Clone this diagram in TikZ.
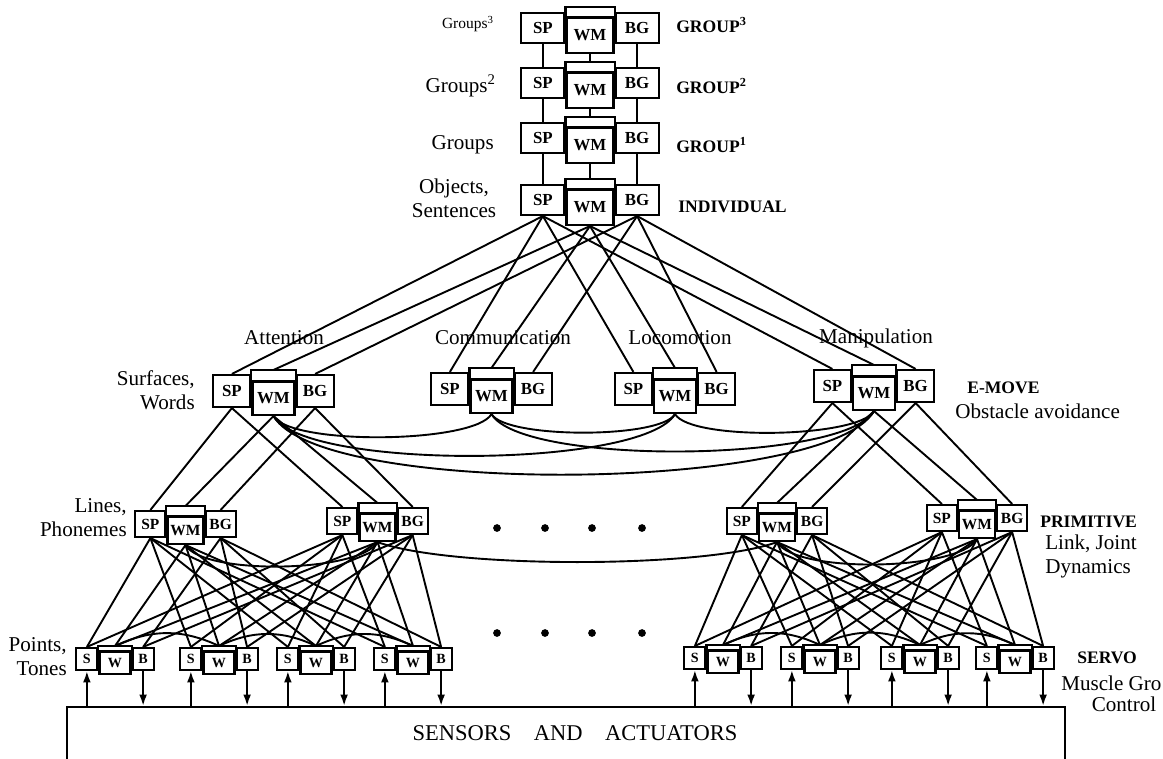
\documentclass[tikz,border=0pt]{standalone}
\usepackage{fontspec}
\setmainfont{Liberation Serif}
\usetikzlibrary{arrows.meta, calc, positioning}

\tikzset{
  boxline/.style={line width=1.5pt},
  box/.style={draw, boxline, fill=white, inner sep=0pt},
  bigwm/.style={box, minimum width=1.175cm, minimum height=0.875cm, font=\bfseries\fontsize{12}{12}\selectfont},
  bigside/.style={box, minimum width=1.075cm, minimum height=0.75cm, yshift=0.125cm, font=\bfseries\fontsize{12}{12}\selectfont},
  midwm/.style={box, minimum width=1.05cm, minimum height=0.825cm, font=\bfseries\fontsize{12}{12}\selectfont},
  midside/.style={box, minimum width=0.925cm, minimum height=0.8cm, yshift=0.175cm, font=\bfseries\fontsize{12}{12}\selectfont},
  smallwm/.style={box, minimum width=0.9cm, minimum height=0.675cm, font=\bfseries\fontsize{11}{11}\selectfont},
  smallside/.style={box, minimum width=0.75cm, minimum height=0.65cm, yshift=0.15cm, font=\bfseries\fontsize{11}{11}\selectfont},
  servowm/.style={box, minimum width=0.775cm, minimum height=0.55cm, font=\bfseries\fontsize{10}{10}\selectfont},
  servoside/.style={box, minimum width=0.525cm, minimum height=0.55cm, yshift=0.1cm, font=\bfseries\fontsize{10}{10}\selectfont},
  link/.style={line width=1.35pt},
  lbl/.style={font=\fontsize{15}{17}\selectfont, inner sep=0pt},
  tag/.style={font=\bfseries\fontsize{12.5}{14}\selectfont, inner sep=0pt},
  dot/.style={circle, fill, inner sep=0pt, minimum size=5.5pt},
  sig/.style={link, -{Latex[length=8pt, width=5.5pt]}}
}

% name, x, y (centre of the middle box), size, tab height, three labels
\newcommand{\rcsmod}[8]{%
  \node[#4wm] (#1w) at (#2,#3) {#7};
  \node[#4side, anchor=north east] (#1s) at (#1w.north west) {#6};
  \node[#4side, anchor=north west] (#1b) at (#1w.north east) {#8};
  \path ([yshift=#5]#1s.north east) coordinate (#1tl);
  \draw[boxline] (#1tl) rectangle (#1b.north west |- #1w.north);
  \coordinate (#1t) at (#1w.north |- #1tl);
}

\begin{document}
\begin{tikzpicture}[x=0.025cm, y=-0.025cm]
\useasboundingbox (0,0) rectangle (1163,758);

% group levels
\rcsmod{g3}{590}{35.5}{big}{0.125cm}{SP}{WM}{BG}
\rcsmod{g2}{590}{90.5}{big}{0.125cm}{SP}{WM}{BG}
\rcsmod{g1}{590}{145.5}{big}{0.125cm}{SP}{WM}{BG}
\rcsmod{ind}{590}{207.5}{big}{0.125cm}{SP}{WM}{BG}

\foreach \u/\l in {g3/g2, g2/g1, g1/ind} {
  \draw[link] (\u s.south) -- (\l s.north);
  \draw[link] (\u w.south) -- (\l t);
  \draw[link] (\u b.south) -- (\l b.north);
}

% e-move level
\rcsmod{ea}{273.5}{398.5}{mid}{0.1cm}{SP}{WM}{BG}
\rcsmod{ec}{491.5}{396.5}{mid}{0.1cm}{SP}{WM}{BG}
\rcsmod{el}{675}{396.5}{mid}{0.1cm}{SP}{WM}{BG}
\rcsmod{em}{874}{393.5}{mid}{0.1cm}{SP}{WM}{BG}

\foreach \e in {ea, ec, el, em} {
  \draw[link] (inds.south) -- (\e s.north);
  \draw[link] (indw.south) -- (\e t);
  \draw[link] (indb.south) -- (\e b.north);
}
\foreach \a/\b in {ea/ec, ea/el, ea/em, ec/el, ec/em, el/em}
  \draw[link] (\a w.south) to[out=-60, in=-120, looseness=0.4] (\b w.south);

% primitive level
\rcsmod{p1}{185.5}{530.5}{small}{0.1cm}{SP}{WM}{BG}
\rcsmod{p2}{377.5}{527.5}{small}{0.1cm}{SP}{WM}{BG}
\rcsmod{p3}{777}{527.5}{small}{0.1cm}{SP}{WM}{BG}
\rcsmod{p4}{977}{524.5}{small}{0.1cm}{SP}{WM}{BG}

\foreach \u/\l in {ea/p1, ea/p2, em/p3, em/p4} {
  \draw[link] (\u s.south) -- (\l s.north);
  \draw[link] (\u w.south) -- (\l t);
  \draw[link] (\u b.south) -- (\l b.north);
}
\draw[link] (p1w.south) to[out=-60, in=-120, looseness=0.47] (p2w.south);
\draw[link] (p2w.south) to[out=-20, in=-160, looseness=0.5] (p3w.south);
\draw[link] (p3w.south) to[out=-60, in=-120, looseness=0.47] (p4w.south);

% servo level
\rcsmod{v1}{115}{663}{servo}{0.025cm}{S}{W}{B}
\rcsmod{v2}{219}{663}{servo}{0.025cm}{S}{W}{B}
\rcsmod{v3}{316}{663}{servo}{0.025cm}{S}{W}{B}
\rcsmod{v4}{413}{663}{servo}{0.025cm}{S}{W}{B}
\rcsmod{v5}{723}{662}{servo}{0.025cm}{S}{W}{B}
\rcsmod{v6}{820}{662}{servo}{0.025cm}{S}{W}{B}
\rcsmod{v7}{920}{662}{servo}{0.025cm}{S}{W}{B}
\rcsmod{v8}{1015}{662}{servo}{0.025cm}{S}{W}{B}

\foreach \u/\l in {p1/v1, p1/v2, p1/v3, p1/v4, p2/v1, p2/v2, p2/v3, p2/v4,
                   p3/v5, p3/v6, p3/v7, p3/v8, p4/v5, p4/v6, p4/v7, p4/v8} {
  \draw[link] (\u s.south) -- (\l s.north);
  \draw[link] (\u w.south) -- (\l t);
  \draw[link] (\u b.south) -- (\l b.north);
}
\foreach \a/\b in {v1/v2, v2/v3, v3/v4, v5/v6, v6/v7, v7/v8}
  \draw[link] (\a t) to[bend left=25] (\b t);

% dots
\foreach \x [count=\i] in {497, 545, 592, 642} {
  \node[dot] (pd\i) at (\x,528) {};
  \node[dot] (vd\i) at (\x,633) {};
}

% sensors and actuators
\node[draw, boxline, minimum width=24.95cm, minimum height=1.4cm] (sens) at (566,735) {};
\node[lbl, font=\fontsize{16}{18}\selectfont] (senstext) at (575,733) {SENSORS\quad AND\quad ACTUATORS};
\foreach \v in {v1, v2, v3, v4, v5, v6, v7, v8} {
  \draw[sig] (sens.north -| \v s.south) -- (\v s.south);
  \draw[sig] (\v b.south) -- (sens.north -| \v b.south);
}

% left labels
\node[lbl, anchor=east, font=\fontsize{11}{12}\selectfont] (lg3) at (494,24) {Groups\textsuperscript{3}};
\node[lbl, anchor=east] (lg2) at (496,86) {Groups\textsuperscript{2}};
\node[lbl, anchor=east] (lg1) at (494,145) {Groups};
\node[lbl, align=center] (lind) at (454,198) {Objects,\\Sentences};
\node[lbl, align=right, anchor=east] (lea) at (195,390) {Surfaces,\\Words};
\node[lbl, align=right, anchor=east] (lp) at (127,518) {Lines,\\Phonemes};
\node[lbl, align=right, anchor=east] (lv) at (67,657) {Points,\\Tones};

% task names
\node[lbl] (natt) at (284,338) {Attention};
\node[lbl] (ncom) at (503,338) {Communication};
\node[lbl] (nloc) at (680,338) {Locomotion};
\node[lbl] (nman) at (876,338) {Manipulation};

% right labels
\node[tag, anchor=west] (rg3) at (676,25) {GROUP\textsuperscript{3}};
\node[tag, anchor=west] (rg2) at (676,86) {GROUP\textsuperscript{2}};
\node[tag, anchor=west] (rg1) at (676,145) {GROUP\textsuperscript{1}};
\node[tag, anchor=west] (rind) at (678,207) {INDIVIDUAL};
\node[tag, anchor=west] (rem) at (967,388) {E-MOVE};
\node[lbl, anchor=west] (rem2) at (955,411) {Obstacle avoidance};
\node[tag, anchor=west] (rp) at (1040,522) {PRIMITIVE};
\node[lbl, anchor=west, align=left] (rp2) at (1045,556) {Link, Joint\\Dynamics};
\node[tag, anchor=west] (rv) at (1077,658) {SERVO};
\node[lbl, anchor=west] (rv2) at (1061,683) {Muscle Gro};
\node[lbl] (rv3) at (1124,704) {Control};
\end{tikzpicture}
\end{document}
